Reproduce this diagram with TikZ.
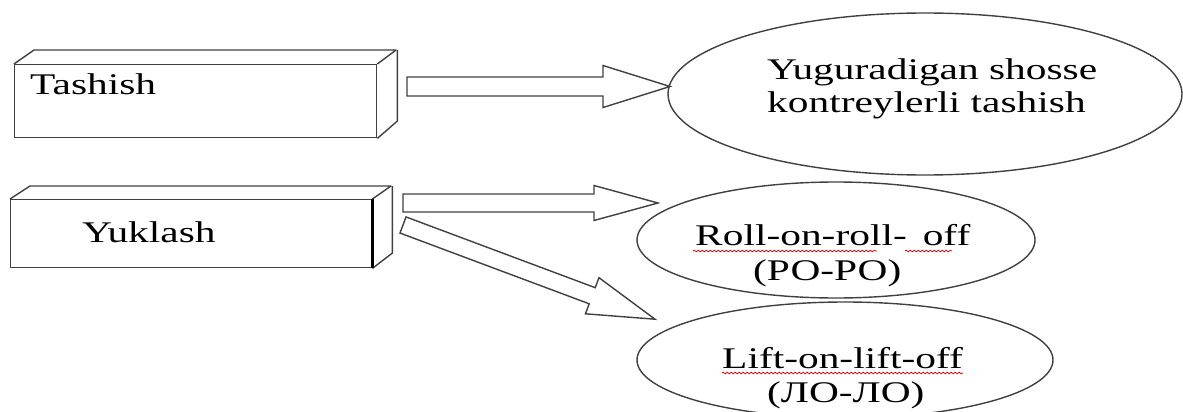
\documentclass[tikz,border=0pt]{standalone}
\usepackage{fontspec}
\setmainfont{Liberation Serif}[FakeStretch=1.38]
\usetikzlibrary{shapes.geometric,decorations.pathmorphing}
\newcommand\blockarrow[7]{%
  \begin{scope}[shift={#2},rotate=#3]
    \draw[shape line,line join=miter] (0,-#5) -- ({#4-#7},-#5) -- ({#4-#7},-#6) -- (#4,0)
      -- ({#4-#7},#6) -- ({#4-#7},#5) -- (0,#5) -- cycle;
    \coordinate (#1) at (#4,0);
  \end{scope}}
\begin{document}
\begin{tikzpicture}[x=1pt,y=-1pt,
  shape line/.style={draw=black!75,line width=1.4pt},
  lbl/.style={inner sep=0pt,anchor=base west,font=\fontsize{30}{33}\selectfont},
  oval/.style={ellipse,shape line,inner sep=0pt},
  boxfront/.style={rectangle,shape line,inner sep=0pt,anchor=north west},
  spell/.style={draw=red!85!black,line width=0.7pt,decorate,
    decoration={snake,amplitude=0.9pt,segment length=4pt}}]
\useasboundingbox (0,0) rectangle (1183,412);

% ---- box 1: Tashish
\node[boxfront,minimum width=362pt,minimum height=73pt] (tashbox) at (14,64) {};
\draw[shape line,line join=round] (tashbox.north west) -- ++(20,-14) -- ++(362,0) -- (tashbox.north east);
\draw[shape line,line join=round] (tashbox.north east) ++(20,-14) -- ++(0,71) -- (tashbox.south east);
\node[lbl] (tash) at (30,95) {Tashish};

% ---- box 2: Yuklash
\node[boxfront,minimum width=361pt,minimum height=68pt] (yukbox) at (10,199) {};
\draw[shape line,line join=round] (yukbox.north west) -- ++(20,-13) -- ++(361,0) -- (yukbox.north east);
\draw[shape line,line join=round] (yukbox.north east) ++(20,-13) -- ++(0,67) -- (yukbox.south east);
\draw[line width=2.4pt,black] (yukbox.north east) -- (yukbox.south east);
\node[lbl] (yuk) at (82,242) {Yuklash};

% ---- ellipses
\node[oval,minimum width=514pt,minimum height=162pt] (yug) at (925,94) {};
\node[lbl] (yug1) at (767,80) {Yuguradigan shosse};
\node[lbl] (yug2) at (767,112) {kontreylerli tashish};

\node[oval,minimum width=398pt,minimum height=116pt] (roro) at (836,240) {};
\node[lbl] (roro1) at (695,245) {Roll-on-roll-\hspace{16pt}off};
\node[lbl] (roro2) at (753,280) {(РО-РО)};
\draw[spell] (693,251) -- (877,251);
\draw[spell] (905,251) -- (952,251);

\node[oval,minimum width=416pt,minimum height=116pt] (lolo) at (845,360) {};
\node[lbl] (lolo1) at (722,368) {Lift-on-lift-off};
\node[lbl] (lolo2) at (767,402) {(ЛО-ЛО)};
\draw[spell] (722,373) -- (963,373);

% ---- block arrows
\blockarrow{a1}{(407,86.5)}{0}{263}{9.5}{21}{67}
\blockarrow{a2}{(403,203)}{0}{255}{9}{17.5}{64}
\blockarrow{a3}{(403,225)}{-20.5}{269}{8.6}{19.3}{67}
\end{tikzpicture}
\end{document}
